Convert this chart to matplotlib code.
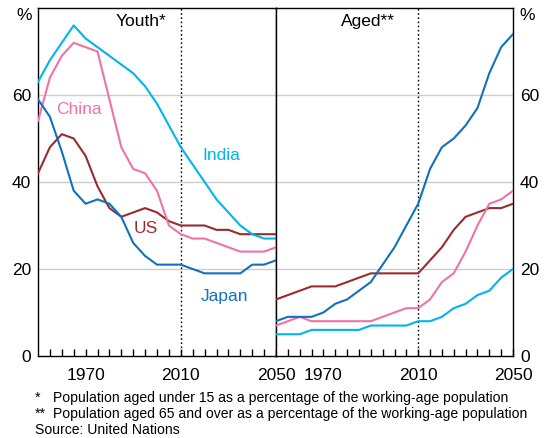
import matplotlib
matplotlib.use('Agg')
from matplotlib import pyplot as plt
from matplotlib.ticker import FixedLocator

plt.rcParams['font.family'] = ['Liberation Sans', 'DejaVu Sans']

years = list(range(1950, 2051, 5))

# youth dependency ratio, % of working-age population
youth_india = [63, 68, 72, 76, 73, 71, 69, 67, 65, 62, 58, 53, 48, 44, 40, 36, 33, 30, 28, 27, 27]
youth_china = [54, 64, 69, 72, 71, 70, 59, 48, 43, 42, 38, 30, 28, 27, 27, 26, 25, 24, 24, 24, 25]
youth_us = [42, 48, 51, 50, 46, 39, 34, 32, 33, 34, 33, 31, 30, 30, 30, 29, 29, 28, 28, 28, 28]
youth_japan = [59, 55, 47, 38, 35, 36, 35, 32, 26, 23, 21, 21, 21, 20, 19, 19, 19, 19, 21, 21, 22]

# aged dependency ratio
aged_india = [5, 5, 5, 6, 6, 6, 6, 6, 7, 7, 7, 7, 8, 8, 9, 11, 12, 14, 15, 18, 20]
aged_china = [7, 8, 9, 8, 8, 8, 8, 8, 8, 9, 10, 11, 11, 13, 17, 19, 24, 30, 35, 36, 38]
aged_us = [13, 14, 15, 16, 16, 16, 17, 18, 19, 19, 19, 19, 19, 22, 25, 29, 32, 33, 34, 34, 35]
aged_japan = [8, 9, 9, 9, 10, 12, 13, 15, 17, 21, 25, 30, 35, 43, 48, 50, 53, 57, 65, 71, 74]

colours = {'India': '#00b4ec', 'China': '#f072a8', 'US': '#9b2b2f', 'Japan': '#1170bf'}

W, H = 546, 438
fig = plt.figure(figsize=(W / 100, H / 100), dpi=100)

def box(x0, x1, top, bottom):
    return [x0 / W, (H - bottom) / H, (x1 - x0) / W, (bottom - top) / H]

axl = fig.add_axes(box(38, 276, 8, 356))
axr = fig.add_axes(box(276, 513, 8, 356))

panels = [
    (axl, {'India': youth_india, 'China': youth_china, 'US': youth_us, 'Japan': youth_japan}),
    (axr, {'India': aged_india, 'China': aged_china, 'US': aged_us, 'Japan': aged_japan}),
]

for ax, series in panels:
    for name in ['US', 'China', 'India', 'Japan']:
        ax.plot(years, series[name], color=colours[name], lw=1.5, zorder=3)
    ax.set_xlim(1950, 2050)
    ax.set_ylim(0, 80)
    for yv in [20, 40, 60]:
        ax.axhline(yv, color='#cccccc', lw=1, zorder=1)
    ax.axvline(2010, color='black', lw=1, ls=(0, (1.2, 1.8)), zorder=2)
    ax.xaxis.set_major_locator(FixedLocator([1970, 2010, 2050]))
    ax.xaxis.set_minor_locator(FixedLocator(list(range(1955, 2050, 5))))
    ax.tick_params(axis='x', which='both', direction='in', length=5, width=1,
                   labelsize=12.5, pad=9)
    ax.set_yticks([0, 20, 40, 60])
    for s in ax.spines.values():
        s.set_linewidth(1)
        s.set_color('black')

axl.tick_params(axis='y', length=0, labelsize=12.5, pad=5)
axr.yaxis.tick_right()
axr.tick_params(axis='y', length=0, labelsize=12.5, pad=5)

axl.text(1993.3, 77, 'Youth*', ha='center', va='center', fontsize=12.5)
axr.text(1988.8, 77, 'Aged**', ha='center', va='center', fontsize=12.5)

# series labels inside the youth panel
axl.text(1967.4, 56.6, 'China', color=colours['China'], ha='center', va='center', fontsize=12.5)
axl.text(2026.9, 46.2, 'India', color=colours['India'], ha='center', va='center', fontsize=12.5)
axl.text(1995.2, 29.3, 'US', color=colours['US'], ha='center', va='center', fontsize=12.5)
axl.text(2028.2, 13.6, 'Japan', color=colours['Japan'], ha='center', va='center', fontsize=12.5)

fig.text(24 / W, 1 - 16 / H, '%', ha='center', va='center', fontsize=12.5)
fig.text(527 / W, 1 - 16 / H, '%', ha='center', va='center', fontsize=12.5)

fs = 10.1
fig.text(35 / W, 1 - 398 / H, '*', ha='left', va='center', fontsize=fs)
fig.text(53 / W, 1 - 398 / H, 'Population aged under 15 as a percentage of the working-age population',
         ha='left', va='center', fontsize=fs)
fig.text(35 / W, 1 - 414 / H, '**', ha='left', va='center', fontsize=fs)
fig.text(53 / W, 1 - 414 / H, 'Population aged 65 and over as a percentage of the working-age population',
         ha='left', va='center', fontsize=fs)
fig.text(35 / W, 1 - 430 / H, 'Source: United Nations', ha='left', va='center', fontsize=fs)

fig.savefig('out.png', dpi=100)
